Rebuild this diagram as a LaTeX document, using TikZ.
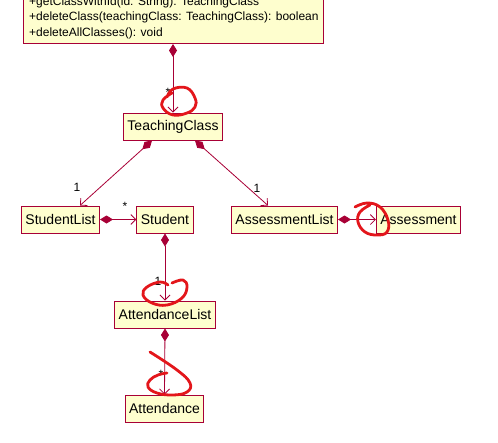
\documentclass[tikz,border=0pt]{standalone}
\usepackage{fontspec}
\setmainfont{Liberation Sans}
\usetikzlibrary{arrows.meta}
\definecolor{umlred}{HTML}{A80036}
\definecolor{umlfill}{HTML}{FEFECE}
\definecolor{marker}{HTML}{E3161B}
\tikzset{
  classbox/.style={draw=umlred, fill=umlfill, line width=1pt, minimum height=27pt, inner xsep=4pt, inner ysep=2pt, font=\fontsize{14}{16}\selectfont},
  comp/.style={draw=umlred, line width=0.8pt, {Diamond[length=13pt,width=8pt]}-{Straight Barb[length=5pt,width=10pt]}},
  mult/.style={inner sep=0pt, font=\fontsize{12}{14}\selectfont},
  method/.style={anchor=west, inner sep=0pt, font=\fontsize{12}{14}\selectfont},
  scribble/.style={draw=marker, line width=2.8pt, line cap=round, line join=round}
}
\begin{document}
\begin{tikzpicture}[x=1pt, y=-1pt]
    \useasboundingbox (0,0) rectangle (498,442);
    \clip (0,0) rectangle (498,442);
    % the class above is cut off by the top edge
    \node[classbox, anchor=south, minimum width=300pt, minimum height=70pt] (mgr) at (173,44) {};
    \node[method] (m1) at (29,2) {+getClassWithId(id: String): TeachingClass};
    \node[method] (m2) at (29,17.5) {+deleteClass(teachingClass: TeachingClass): boolean};
    \node[method] (m3) at (29,33) {+deleteAllClasses(): void};

    \node[classbox] (tc) at (173,126.5) {TeachingClass};
    \node[classbox] (sl) at (60.5,219.5) {StudentList};
    \node[classbox] (st) at (165,219.5) {Student};
    \node[classbox] (al) at (284.5,219.5) {AssessmentList};
    \node[classbox] (as) at (418.5,219.5) {Assessment};
    \node[classbox] (atl) at (165,314.5) {AttendanceList};
    \node[classbox] (at) at (164.5,408.5) {Attendance};

    \draw[comp] (mgr.south) -- (tc.north);
    \draw[comp] ([xshift=-21pt]tc.south) -- ([xshift=19.5pt]sl.north);
    \draw[comp] ([xshift=22pt]tc.south) -- ([xshift=-16.5pt]al.north);
    \draw[comp] (sl.east) -- (st.west);
    \draw[comp] (al.east) -- (as.west);
    \draw[comp] (st.south) -- (atl.north);
    \draw[comp] (atl.south) -- (at.north);

    % multiplicities
    \node[mult] (k1) at (168,92) {*};
    \node[mult] (k2) at (77,187) {1};
    \node[mult] (k3) at (257,188) {1};
    \node[mult] (k4) at (125,206) {*};
    \node[mult] (k5) at (158,281) {1};
    \node[mult] (k6) at (161,374) {*};

    % red marks drawn over the diagram
    \draw[scribble] plot[smooth, tension=0.7] coordinates {(167,97) (173,89) (187,88) (195,98) (195,107) (187,113) (173,115) (163,108) (163,100) (172,93)};
    \draw[scribble] plot[smooth, tension=0.7] coordinates {(355,207) (367,203) (380,207) (388,220) (387,232) (377,235) (365,232) (358,222) (360,212) (370,205)};
    \draw[scribble] plot[smooth, tension=0.7] coordinates {(172,283) (183,280) (187,287) (182,298) (167,305) (152,303) (143,295) (147,287) (160,282) (168,285)};
    \draw[scribble] plot[smooth, tension=0.7] coordinates {(150,352) (177,370) (190,383) (187,392) (173,395) (157,393) (148,387) (150,380) (158,375) (167,373)};
\end{tikzpicture}
\end{document}
